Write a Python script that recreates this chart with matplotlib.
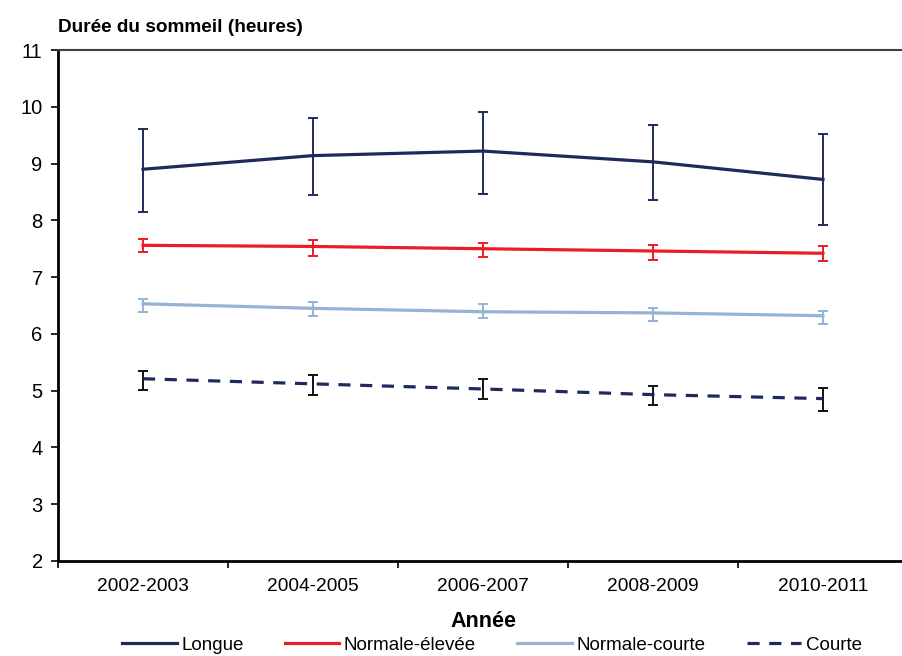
import numpy as np
import matplotlib
matplotlib.use('Agg')
import matplotlib.pyplot as plt
from matplotlib.ticker import FixedLocator, NullFormatter

plt.rcParams['font.family'] = ['Liberation Sans', 'DejaVu Sans']

# Data
years = ['2002-2003', '2004-2005', '2006-2007', '2008-2009', '2010-2011']

longue = [8.90, 9.14, 9.22, 9.03, 8.72]
longue_lo = [8.15, 8.44, 8.46, 8.36, 7.91]
longue_hi = [9.60, 9.81, 9.91, 9.68, 9.52]

elevee = [7.56, 7.54, 7.50, 7.46, 7.42]
elevee_lo = [7.44, 7.38, 7.36, 7.31, 7.28]
elevee_hi = [7.68, 7.65, 7.60, 7.57, 7.54]

ncourte = [6.53, 6.45, 6.39, 6.37, 6.32]
ncourte_lo = [6.38, 6.32, 6.28, 6.22, 6.17]
ncourte_hi = [6.62, 6.57, 6.52, 6.46, 6.41]

courte = [5.21, 5.12, 5.03, 4.93, 4.86]
courte_lo = [5.01, 4.93, 4.86, 4.75, 4.65]
courte_hi = [5.35, 5.28, 5.20, 5.09, 5.04]

navy = '#1f2a5c'
red = '#ed1c24'
lblue = '#95b3d7'

fig = plt.figure(figsize=(9.02, 6.56), dpi=100)
ax = fig.add_axes([58 / 902, 95 / 656, 850 / 902, 511 / 656])

x = np.arange(len(years))


def yerr(v, lo, hi):
    v = np.array(v)
    return [v - np.array(lo), np.array(hi) - v]


series = [
    (longue, longue_lo, longue_hi, navy, navy, '-', 'Longue'),
    (elevee, elevee_lo, elevee_hi, red, red, '-', 'Normale-élevée'),
    (ncourte, ncourte_lo, ncourte_hi, lblue, lblue, '-', 'Normale-courte'),
    (courte, courte_lo, courte_hi, navy, '#111111', '--', 'Courte'),
]

handles = []
for v, lo, hi, col, ecol, ls, lab in series:
    ax.errorbar(x, v, yerr=yerr(v, lo, hi), fmt='none', ecolor=ecol,
                elinewidth=1.4, capsize=3.8, capthick=1.4, zorder=2)
    line, = ax.plot(x, v, color=col, lw=2.3, ls=ls, label=lab, zorder=3)
    if ls == '--':
        line.set_dashes((3.8, 3.0))
    handles.append(line)

ax.set_xlim(-0.5, 4.5)
ax.set_ylim(2, 11)
ax.set_yticks(range(2, 12))
ax.set_xticks(x)
ax.set_xticklabels(years)
ax.xaxis.set_minor_locator(FixedLocator(np.arange(-0.5, 5.0, 1.0)))
ax.xaxis.set_minor_formatter(NullFormatter())
ax.tick_params(axis='x', which='major', length=0, pad=12, labelsize=13.8)
ax.tick_params(axis='x', which='minor', length=5, width=1.2, direction='out')
ax.tick_params(axis='y', length=5, width=1.2, direction='out', labelsize=14.5, pad=6)

ax.spines['right'].set_visible(False)
ax.spines['left'].set_linewidth(2)
ax.spines['bottom'].set_linewidth(2)
ax.spines['top'].set_color('#404040')
ax.spines['top'].set_linewidth(1.5)

fig.text(58 / 902, 1 - 28 / 656, 'Durée du sommeil (heures)', fontsize=13.7,
         fontweight='bold', ha='left', va='center')
ax.set_xlabel('Année', fontsize=15.5, fontweight='bold', labelpad=12)

fig.legend(handles=handles, loc='center', bbox_to_anchor=(492 / 902, 1 - 645 / 656),
           ncol=4, frameon=False, fontsize=13.5, handlelength=2.9,
           handletextpad=0.25, columnspacing=2.2, borderaxespad=0)

fig.savefig('out.png', dpi=100)
